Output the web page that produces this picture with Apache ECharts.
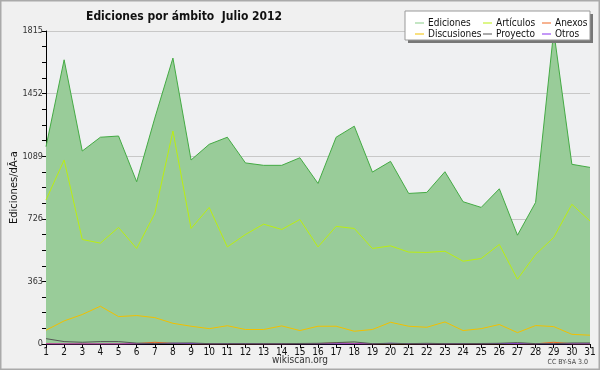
<!DOCTYPE html>
<html><head><meta charset="utf-8">
<script src="https://cdn.jsdelivr.net/npm/echarts@6/dist/echarts.min.js"></script>
<style>html,body{margin:0;padding:0;background:#f0f0f0}#c{width:600px;height:370px}</style>
</head><body><div id="c"></div>
<script>
const days = ['1','2','3','4','5','6','7','8','9','10','11','12','13','14','15','16','17','18','19','20','21','22','23','24','25','26','27','28','29','30','31'];
const yTicks = [0, 363, 726, 1089, 1452, 1815];
const ediciones = [1144,1648,1119,1199,1206,941,1310,1658,1067,1158,1199,1050,1036,1036,1080,931,1199,1263,997,1059,873,879,999,825,792,900,631,821,1815,1042,1024];
const articulos = [835,1067,606,585,676,554,757,1235,670,792,563,635,695,664,722,563,682,670,554,569,533,531,538,480,496,577,376,519,618,810,713];
const discusiones = [80,134,171,219,159,165,153,120,103,89,106,84,84,105,78,103,103,74,84,126,103,97,128,78,89,113,66,107,101,56,51];
const proyecto = [31,14,10,14,14,5,3,5,6,2,2,2,2,2,3,4,8,12,2,4,2,4,2,2,3,4,8,2,2,6,6];
const anexos = [2,1,1,1,1,2,10,3,1,1,1,1,1,1,2,2,6,3,1,1,1,1,1,1,1,1,1,1,10,1,1];
const otros = [0,0,0,0,0,1,2,4,3,1,2,2,1,1,1,1,1,1,1,4,2,1,1,2,1,3,2,1,1,1,1];

const C = {ed:'#44aa44', edFill:'#99cc99', ar:'#bbee11', di:'#f2c000', pr:'#555555', an:'#ee6622', ot:'#8833ee'};
const chart = echarts.init(document.getElementById('c'));
const font = 'DejaVu Sans Condensed';
function line(name, data, color, z, area) {
  const s = {name, type:'line', data, symbol:'none', z, lineStyle:{width:1, color}, itemStyle:{color}};
  if (area) s.areaStyle = {color: C.edFill, opacity:1};
  return s;
}
const legendCommon = {orient:'vertical', top:13, itemGap:1, itemWidth:9, itemHeight:1, icon:'rect',
  textStyle:{fontFamily:font, fontSize:10, color:'#111', padding:[0,0,0,-1]}, selectedMode:false};
chart.setOption({
  backgroundColor:'#f0f0f0',
  animation:false,
  title:{text:'Ediciones por ámbito  Julio 2012', left:81, top:6, textStyle:{fontFamily:font, fontSize:12, fontWeight:'bold', color:'#111'}},
  graphic:[
    {type:'rect', shape:{x:0.5,y:0.5,width:599,height:369}, style:{fill:'none', stroke:'#aaaaaa', lineWidth:2}, silent:true, z:-1},
    {type:'rect', shape:{x:408,y:14,width:185,height:29}, style:{fill:'#777777'}, z:10},
    {type:'rect', shape:{x:405,y:11,width:185,height:29}, style:{fill:'#ffffff', stroke:'#999999', lineWidth:1}, z:11},
    {type:'text', left:'center', top:355, style:{text:'wikiscan.org', fontFamily:font, fontSize:10, fill:'#333'}},
    {type:'text', right:12, top:359, style:{text:'CC BY-SA 3.0', fontFamily:font, fontSize:7, fill:'#444'}}
  ],
  legend:[
    Object.assign({}, legendCommon, {left:410, data:[{name:'Ediciones', itemStyle:{color:'#88cc88'}},'Discusiones'], z:20}),
    Object.assign({}, legendCommon, {left:478, data:['Artículos','Proyecto'], z:20}),
    Object.assign({}, legendCommon, {left:537, data:['Anexos','Otros'], z:20})
  ],
  grid:{left:46, right:10, top:31, bottom:26, show:true, backgroundColor:'#eff0f2', borderWidth:0, containLabel:false, outerBoundsMode:'none'},
  xAxis:{type:'category', data:days, boundaryGap:false,
    axisLine:{lineStyle:{color:'#000', width:1}},
    axisTick:{length:4, lineStyle:{color:'#000'}},
    axisLabel:{fontFamily:font, fontSize:10, color:'#111', margin:3, interval:0},
    splitLine:{show:false}},
  yAxis:{type:'value', min:0, max:1815, interval:363,
    name:'Ediciones/dÃ-a', nameLocation:'middle', nameGap:26, nameMoveOverlap:false, nameTextStyle:{fontFamily:font, fontSize:11, color:'#111'},
    axisLine:{show:true, lineStyle:{color:'#000', width:1}},
    axisTick:{show:true, length:4, lineStyle:{color:'#000'}},
    minorTick:{show:true, splitNumber:4, length:4, lineStyle:{color:'#000', width:1}},
    axisLabel:{fontFamily:font, fontSize:9, color:'#333', margin:3, formatter: v => String(v)},
    splitLine:{show:true, lineStyle:{color:'#c8c8c8', width:1}}},
  series:[
    line('Ediciones', ediciones, C.ed, 2, true),
    line('Artículos', articulos, C.ar, 3),
    line('Anexos', anexos, C.an, 5),
    line('Discusiones', discusiones, C.di, 4),
    line('Proyecto', proyecto, C.pr, 6),
    line('Otros', otros, C.ot, 5)
  ]
});
</script></body></html>
